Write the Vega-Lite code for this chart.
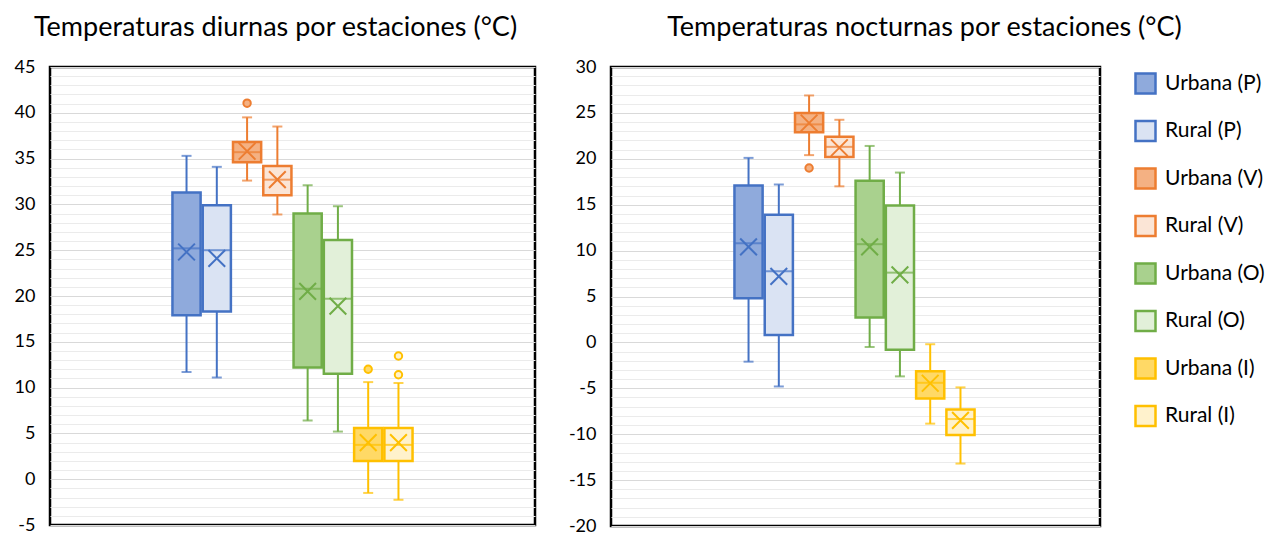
{
  "$schema": "https://vega.github.io/schema/vega-lite/v6.json",
  "background": "white",
  "padding": {"left": 8, "top": 12, "right": 170, "bottom": 0},
  "autosize": {"type": "pad"},
  "spacing": 24,
  "config": {
    "font": "Lato",
    "view": {"stroke": "#000000", "strokeWidth": 2.5},
    "axis": {"labelFont": "Lato", "labelFontSize": 18, "labelColor": "#000000"},
    "legend": {"labelFont": "Lato"}
  },
  "datasets": {
    "diurna": [
      {"serie": "Urbana (P)", "lo": 11.7, "q1": 17.9, "med": 25.2, "q3": 31.3, "hi": 35.3, "mean": 24.8},
      {"serie": "Rural (P)", "lo": 11.1, "q1": 18.3, "med": 25.0, "q3": 29.9, "hi": 34.1, "mean": 24.1},
      {"serie": "Urbana (V)", "lo": 32.6, "q1": 34.6, "med": 35.7, "q3": 36.8, "hi": 39.5, "mean": 35.8},
      {"serie": "Rural (V)", "lo": 28.9, "q1": 31.0, "med": 32.7, "q3": 34.2, "hi": 38.5, "mean": 32.7},
      {"serie": "Urbana (O)", "lo": 6.4, "q1": 12.2, "med": 20.8, "q3": 29.0, "hi": 32.1, "mean": 20.5},
      {"serie": "Rural (O)", "lo": 5.2, "q1": 11.5, "med": 19.7, "q3": 26.1, "hi": 29.8, "mean": 18.9},
      {"serie": "Urbana (I)", "lo": -1.5, "q1": 2.0, "med": 3.75, "q3": 5.6, "hi": 10.6, "mean": 4.0},
      {"serie": "Rural (I)", "lo": -2.25, "q1": 2.0, "med": 3.75, "q3": 5.6, "hi": 10.5, "mean": 4.0}
    ],
    "nocturna": [
      {"serie": "Urbana (P)", "lo": -2.1, "q1": 4.8, "med": 10.8, "q3": 17.1, "hi": 20.1, "mean": 10.4},
      {"serie": "Rural (P)", "lo": -4.8, "q1": 0.8, "med": 7.75, "q3": 13.9, "hi": 17.2, "mean": 7.2},
      {"serie": "Urbana (V)", "lo": 20.4, "q1": 22.9, "med": 23.75, "q3": 25.0, "hi": 26.9, "mean": 23.9},
      {"serie": "Rural (V)", "lo": 17.0, "q1": 20.2, "med": 21.3, "q3": 22.4, "hi": 24.25, "mean": 21.2},
      {"serie": "Urbana (O)", "lo": -0.5, "q1": 2.7, "med": 10.7, "q3": 17.6, "hi": 21.4, "mean": 10.4},
      {"serie": "Rural (O)", "lo": -3.7, "q1": -0.8, "med": 7.6, "q3": 14.9, "hi": 18.5, "mean": 7.35},
      {"serie": "Urbana (I)", "lo": -8.85, "q1": -6.1, "med": -4.4, "q3": -3.15, "hi": -0.2, "mean": -4.45},
      {"serie": "Rural (I)", "lo": -13.2, "q1": -10.1, "med": -8.35, "q3": -7.3, "hi": -4.9, "mean": -8.5}
    ],
    "out_d": [
      {"serie": "Urbana (V)", "v": 41.05},
      {"serie": "Urbana (I)", "v": 12.0},
      {"serie": "Rural (I)", "v": 13.45},
      {"serie": "Rural (I)", "v": 11.4}
    ],
    "out_n": [
      {"serie": "Urbana (V)", "v": 19.0}
    ]
  },
  "hconcat": [
    {
      "width": 485,
      "height": 458,
      "title": {"text": "Temperaturas diurnas por estaciones (°C)", "fontSize": 27, "font": "Lato", "fontWeight": "normal", "color": "#000000", "anchor": "middle", "frame": "group", "dx": -17, "offset": 16},
      "data": {"name": "diurna"},
      "encoding": {
        "x": {"datum": "todas", "type": "nominal", "axis": null, "scale": {"paddingInner": 0, "paddingOuter": 0.51}},
        "xOffset": {"field": "serie", "type": "nominal", "sort": ["Urbana (P)", "Rural (P)", "Urbana (V)", "Rural (V)", "Urbana (O)", "Rural (O)", "Urbana (I)", "Rural (I)"], "scale": {"paddingInner": 0.07, "paddingOuter": 0}}
      },
      "layer": [
        {
          "mark": {"type": "rule", "strokeWidth": 2},
          "encoding": {
            "y": {"field": "lo", "type": "quantitative", "scale": {"domain": [-5, 45], "nice": false, "zero": false},
              "axis": {"title": null, "values": [-5,-4,-3,-2,-1,0,1,2,3,4,5,6,7,8,9,10,11,12,13,14,15,16,17,18,19,20,21,22,23,24,25,26,27,28,29,30,31,32,33,34,35,36,37,38,39,40,41,42,43,44,45], "tickCount": 100,
                "labelExpr": "datum.value % 5 === 0 ? '' + datum.value : ''", "labelOverlap": false, "labelBound": false, "labelPadding": 15, "ticks": false, "domain": false, "minExtent": 40, "maxExtent": 40,
                "gridColor": {"condition": {"test": "datum.value % 5 === 0", "value": "#D9D9D9"}, "value": "#EBEBEB"}, "gridWidth": 1}},
            "y2": {"field": "hi"},
            "color": {"field": "serie", "type": "nominal", "scale": {"domain": ["Rural (I)", "Urbana (I)", "Rural (O)", "Urbana (O)", "Rural (V)", "Urbana (V)", "Rural (P)", "Urbana (P)"], "range": ["#FFC000", "#FFC000", "#70AD47", "#70AD47", "#ED7D31", "#ED7D31", "#4472C4", "#4472C4"]}, "legend": null}
          }
        },
        {
          "mark": {"type": "tick", "thickness": 2, "size": 10},
          "encoding": {"y": {"field": "lo", "type": "quantitative"}, "color": {"field": "serie", "type": "nominal", "legend": null}}
        },
        {
          "mark": {"type": "tick", "thickness": 2, "size": 10},
          "encoding": {"y": {"field": "hi", "type": "quantitative"}, "color": {"field": "serie", "type": "nominal", "legend": null}}
        },
        {
          "mark": {"type": "bar", "strokeWidth": 2.5},
          "encoding": {
            "y": {"field": "q1", "type": "quantitative"},
            "y2": {"field": "q3"},
            "fill": {"field": "serie", "type": "nominal", "scale": {"domain": ["Urbana (P)", "Rural (P)", "Urbana (V)", "Rural (V)", "Urbana (O)", "Rural (O)", "Urbana (I)", "Rural (I)"], "range": ["#8FAADC", "#DAE3F3", "#F4B183", "#FBE5D6", "#A9D18E", "#E2F0D9", "#FFD966", "#FFF2CC"]},
              "legend": {"title": null, "orient": "none", "legendX": 1084, "legendY": 5, "symbolType": "square", "symbolSize": 400, "symbolStrokeWidth": 2.5, "labelFontSize": 21, "labelColor": "#000000", "rowPadding": 16.5, "labelOffset": 8}},
            "stroke": {"field": "serie", "type": "nominal", "scale": {"domain": ["Urbana (P)", "Rural (P)", "Urbana (V)", "Rural (V)", "Urbana (O)", "Rural (O)", "Urbana (I)", "Rural (I)"], "range": ["#4472C4", "#4472C4", "#ED7D31", "#ED7D31", "#70AD47", "#70AD47", "#FFC000", "#FFC000"]},
              "legend": {"title": null, "orient": "none", "legendX": 1084, "legendY": 5, "symbolType": "square", "symbolSize": 400, "symbolStrokeWidth": 2.5, "labelFontSize": 21, "labelColor": "#000000", "rowPadding": 16.5, "labelOffset": 8}}
          }
        },
        {
          "mark": {"type": "tick", "thickness": 2, "size": 28},
          "encoding": {"y": {"field": "med", "type": "quantitative"}, "color": {"field": "serie", "type": "nominal", "legend": null}}
        },
        {
          "mark": {"type": "point", "shape": "M-1,-1L1,1M-1,1L1,-1", "filled": false, "size": 280, "strokeWidth": 2, "opacity": 1},
          "encoding": {"y": {"field": "mean", "type": "quantitative"}, "color": {"field": "serie", "type": "nominal", "legend": null}}
        },
        {
          "data": {"name": "out_d"},
          "mark": {"type": "point", "shape": "circle", "filled": true, "size": 55, "strokeWidth": 2, "opacity": 1},
          "encoding": {"y": {"field": "v", "type": "quantitative"}, "fill": {"field": "serie", "type": "nominal"}, "stroke": {"field": "serie", "type": "nominal"}}
        }
      ]
    },
    {
      "width": 489,
      "height": 459,
      "title": {"text": "Temperaturas nocturnas por estaciones (°C)", "fontSize": 27, "font": "Lato", "fontWeight": "normal", "color": "#000000", "anchor": "middle", "frame": "group", "dx": 69, "offset": 16},
      "data": {"name": "nocturna"},
      "encoding": {
        "x": {"datum": "todas", "type": "nominal", "axis": null, "scale": {"paddingInner": 0, "paddingOuter": 0.51}},
        "xOffset": {"field": "serie", "type": "nominal", "sort": ["Urbana (P)", "Rural (P)", "Urbana (V)", "Rural (V)", "Urbana (O)", "Rural (O)", "Urbana (I)", "Rural (I)"], "scale": {"paddingInner": 0.07, "paddingOuter": 0}}
      },
      "layer": [
        {
          "mark": {"type": "rule", "strokeWidth": 2},
          "encoding": {
            "y": {"field": "lo", "type": "quantitative", "scale": {"domain": [-20, 30], "nice": false, "zero": false},
              "axis": {"title": null, "values": [-20,-19,-18,-17,-16,-15,-14,-13,-12,-11,-10,-9,-8,-7,-6,-5,-4,-3,-2,-1,0,1,2,3,4,5,6,7,8,9,10,11,12,13,14,15,16,17,18,19,20,21,22,23,24,25,26,27,28,29,30], "tickCount": 100,
                "labelExpr": "datum.value % 5 === 0 ? '' + datum.value : ''", "labelOverlap": false, "labelBound": false, "labelPadding": 15, "ticks": false, "domain": false, "minExtent": 48, "maxExtent": 48,
                "gridColor": {"condition": {"test": "datum.value % 5 === 0", "value": "#D9D9D9"}, "value": "#EBEBEB"}, "gridWidth": 1}},
            "y2": {"field": "hi"},
            "color": {"field": "serie", "type": "nominal", "legend": null}
          }
        },
        {
          "mark": {"type": "tick", "thickness": 2, "size": 10},
          "encoding": {"y": {"field": "lo", "type": "quantitative"}, "color": {"field": "serie", "type": "nominal", "legend": null}}
        },
        {
          "mark": {"type": "tick", "thickness": 2, "size": 10},
          "encoding": {"y": {"field": "hi", "type": "quantitative"}, "color": {"field": "serie", "type": "nominal", "legend": null}}
        },
        {
          "mark": {"type": "bar", "strokeWidth": 2.5},
          "encoding": {
            "y": {"field": "q1", "type": "quantitative"},
            "y2": {"field": "q3"},
            "fill": {"field": "serie", "type": "nominal"},
            "stroke": {"field": "serie", "type": "nominal"}
          }
        },
        {
          "mark": {"type": "tick", "thickness": 2, "size": 28},
          "encoding": {"y": {"field": "med", "type": "quantitative"}, "color": {"field": "serie", "type": "nominal", "legend": null}}
        },
        {
          "mark": {"type": "point", "shape": "M-1,-1L1,1M-1,1L1,-1", "filled": false, "size": 280, "strokeWidth": 2, "opacity": 1},
          "encoding": {"y": {"field": "mean", "type": "quantitative"}, "color": {"field": "serie", "type": "nominal", "legend": null}}
        },
        {
          "data": {"name": "out_n"},
          "mark": {"type": "point", "shape": "circle", "filled": true, "size": 55, "strokeWidth": 2, "opacity": 1},
          "encoding": {"y": {"field": "v", "type": "quantitative"}, "fill": {"field": "serie", "type": "nominal"}, "stroke": {"field": "serie", "type": "nominal"}}
        }
      ]
    }
  ]
}
